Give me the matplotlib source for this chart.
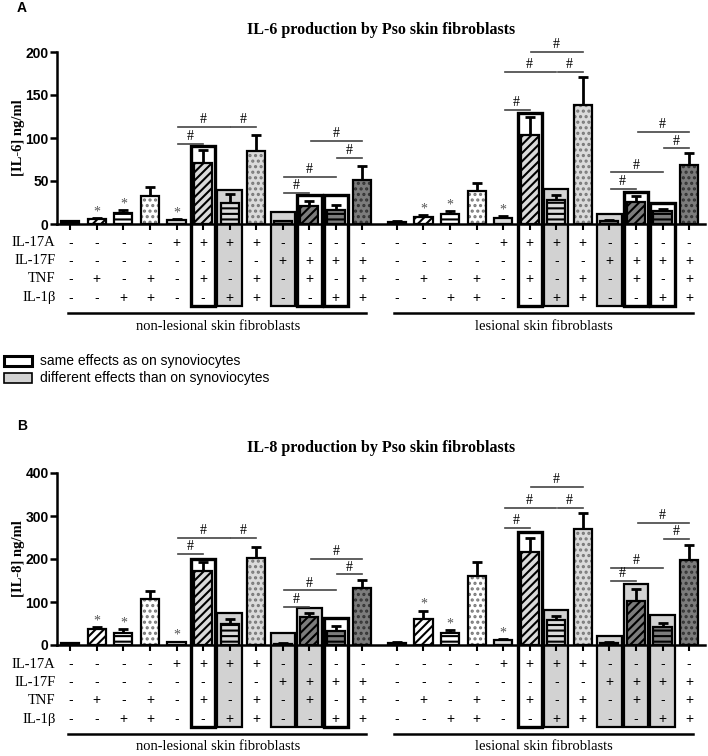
import matplotlib
matplotlib.use('Agg')
import matplotlib.pyplot as plt
from matplotlib.patches import Rectangle
from matplotlib.transforms import blended_transform_factory
import numpy as np

plt.rcParams['hatch.linewidth'] = 1.5
SERIF = 'Liberation Serif'
SANS = 'Liberation Sans'

# stimulation table (same for both groups)
row_names = ['IL-17A', 'IL-17F', 'TNF', 'IL-1β']
il17a = ['-', '-', '-', '-', '+', '+', '+', '+', '-', '-', '-', '-']
il17f = ['-', '-', '-', '-', '-', '-', '-', '-', '+', '+', '+', '+']
tnf = ['-', '+', '-', '+', '-', '+', '-', '+', '-', '+', '-', '+']
il1b = ['-', '-', '+', '+', '-', '-', '+', '+', '-', '-', '+', '+']
groups = ['non-lesional skin fibroblasts', 'lesional skin fibroblasts']

# IL-6 ng/ml
il6_nonles = [3, 6, 13, 32, 5, 71, 25, 85, 3, 21, 16, 51]
il6_nonles_err = [1, 1, 3, 11, 1, 15, 10, 19, 1, 6, 6, 16]
il6_les = [2, 8, 12, 38, 7, 104, 28, 138, 4, 26, 15, 69]
il6_les_err = [1, 2, 3, 10, 2, 20, 6, 33, 1, 7, 3, 14]
il6_nonles_box = [0, 0, 0, 0, 0, 91, 40, 0, 14, 34, 34, 0]
il6_nonles_kind = ['', '', '', '', '', 'same', 'diff', '', 'diff', 'same', 'same', '']
il6_les_box = [0, 0, 0, 0, 0, 129, 41, 0, 12, 37, 25, 0]
il6_les_kind = ['', '', '', '', '', 'same', 'diff', '', 'diff', 'same', 'same', '']
il6_nonles_sig = [(4, 5, 93), (4, 6, 113), (6, 7, 113), (8, 9, 36), (8, 10, 55), (9, 11, 97), (10, 11, 77)]
il6_les_sig = [(4, 5, 133), (4, 6, 177), (6, 7, 177), (5, 7, 200), (8, 9, 41), (8, 10, 60), (9, 11, 107), (10, 11, 88)]

# IL-8 ng/ml
il8_nonles = [4, 37, 28, 108, 7, 171, 48, 203, 3, 64, 32, 132]
il8_nonles_err = [1, 5, 9, 17, 1, 21, 12, 24, 1, 10, 12, 20]
il8_les = [5, 60, 28, 160, 11, 217, 58, 270, 5, 102, 42, 198]
il8_les_err = [1, 20, 6, 32, 2, 31, 9, 37, 1, 28, 9, 35]
il8_nonles_box = [0, 0, 0, 0, 0, 201, 74, 0, 28, 86, 62, 0]
il8_nonles_kind = ['', '', '', '', '', 'same', 'diff', '', 'diff', 'diff', 'same', '']
il8_les_box = [0, 0, 0, 0, 0, 262, 81, 0, 21, 142, 70, 0]
il8_les_kind = ['', '', '', '', '', 'same', 'diff', '', 'diff', 'diff', 'diff', '']
il8_nonles_sig = [(4, 5, 212), (4, 6, 249), (6, 7, 249), (8, 9, 88), (8, 10, 127), (9, 11, 201), (10, 11, 164)]
il8_les_sig = [(4, 5, 272), (4, 6, 319), (6, 7, 319), (5, 7, 367), (8, 9, 150), (8, 10, 180), (9, 11, 284), (10, 11, 247)]

star_idx = [1, 2, 4]

LG = '#dadada'
DG = '#7c7c7c'
BOXG = '#d2d2d2'
fills = ['black', 'white', 'white', 'white', LG, LG, LG, LG, DG, DG, DG, DG]
hatches = ['', '////', '---', '...', '', '////', '---', '...', '', '////', '---', '...']
hatch_cols = ['black', 'black', 'black', '#777777', 'black', 'black', 'black', '#777777',
              'black', 'black', 'black', '#333333']

W, H = 708, 756
fig = plt.figure(figsize=(W / 100, H / 100), dpi=100)

AX_H = 172  # px height of plot area
pos = [np.arange(12), np.arange(12) + 12.3]
ROW_PX = [19, 37, 55, 74]


def draw_panel(top_px, ymax, step, data, title, ylabel, letter, title_px):
    ax = fig.add_axes([57 / W, 1 - (top_px + AX_H) / H, 648 / W, AX_H / H])
    ax.patch.set_visible(False)
    ax.set_xlim(-0.5, 23.9)
    ax.set_ylim(0, ymax)
    trans = blended_transform_factory(ax.transData, ax.transAxes)
    box_bottom = -82 / AX_H * ymax

    for g, (vals, errs, box, kind, sig) in enumerate(data):
        x = pos[g]
        for i in range(12):
            if box[i] > 0:
                same = kind[i] == 'same'
                ax.add_patch(Rectangle((x[i] - 0.46, box_bottom), 0.92, box[i] - box_bottom,
                                       facecolor='white' if same else BOXG,
                                       edgecolor='black', lw=2.4 if same else 1.6,
                                       clip_on=False, zorder=0.8))
            # fill + hatch, then black outline on top
            ax.bar(x[i], vals[i], width=0.68, color=fills[i], edgecolor=hatch_cols[i],
                   hatch=hatches[i], lw=0, zorder=2)
            ax.bar(x[i], vals[i], width=0.68, fill=False, edgecolor='black', lw=1.6, zorder=2.1)
        ax.errorbar(x, vals, yerr=[np.zeros(12), errs], fmt='none', ecolor='black',
                    elinewidth=2, capsize=3.5, capthick=2, zorder=1.9)
        for i in star_idx:
            ax.annotate('*', xy=(x[i], vals[i] + errs[i]), xytext=(0, 4.5),
                        textcoords='offset points', ha='center', va='center',
                        fontsize=10, color='#555555', family=SERIF)
        for (i, j, y) in sig:
            ax.plot([x[i] + 0.06, x[j]], [y, y], color='#444444', lw=1.2, clip_on=False)
            ax.annotate('#', xy=((x[i] + x[j]) / 2, y), xytext=(0, 0.5),
                        textcoords='offset points', ha='center', va='bottom',
                        fontsize=10, family=SERIF, annotation_clip=False)
        # stimulation table
        for r, col in enumerate([il17a, il17f, tnf, il1b]):
            yy = -ROW_PX[r] / AX_H
            for i in range(12):
                ax.text(x[i], yy, col[i], transform=trans, ha='center', va='center',
                        fontsize=10, family=SANS, zorder=3)
        yl = -89 / AX_H
        ax.plot([x[0] - 0.1, x[-1] + 0.15], [yl, yl], transform=trans, color='black',
                lw=1.8, clip_on=False)
        ax.text((x[0] + x[-1]) / 2 + 0.05, -102 / AX_H, groups[g], transform=trans,
                ha='center', va='center', fontsize=10.5, family=SERIF)

    for r, name in enumerate(row_names):
        ax.text(-0.56, -ROW_PX[r] / AX_H, name, transform=trans, ha='right',
                va='center', fontsize=10.5, family=SERIF)

    ax.spines['top'].set_visible(False)
    ax.spines['right'].set_visible(False)
    ax.spines['left'].set_linewidth(1.8)
    ax.spines['bottom'].set_linewidth(1.8)
    ax.set_xticks(np.concatenate(pos))
    ax.set_xticklabels([])
    ax.tick_params(axis='x', length=4, width=1.5, direction='out')
    ax.set_yticks(np.arange(0, ymax + 1, step))
    ax.tick_params(axis='y', length=5, width=1.8, labelsize=10, pad=1)
    for lab in ax.get_yticklabels():
        lab.set_fontweight('bold')
        lab.set_family(SANS)

    fig.text(19 / W, 1 - (top_px + AX_H / 2) / H, ylabel, rotation=90, ha='center',
             va='center', fontsize=10.5, fontweight='bold', family=SERIF)
    fig.text(381 / W, 1 - title_px / H, title, ha='center', va='center',
             fontsize=11.5, fontweight='bold', family=SERIF)
    fig.text(22 / W, 1 - (title_px - 22) / H, letter, ha='center', va='center',
             fontsize=10, fontweight='bold', family=SANS)
    return ax


draw_panel(52, 200, 50,
           [(il6_nonles, il6_nonles_err, il6_nonles_box, il6_nonles_kind, il6_nonles_sig),
            (il6_les, il6_les_err, il6_les_box, il6_les_kind, il6_les_sig)],
           'IL-6 production by Pso skin fibroblasts', '[IL-6] ng/ml', 'A', 30)

draw_panel(473, 400, 100,
           [(il8_nonles, il8_nonles_err, il8_nonles_box, il8_nonles_kind, il8_nonles_sig),
            (il8_les, il8_les_err, il8_les_box, il8_les_kind, il8_les_sig)],
           'IL-8 production by Pso skin fibroblasts', '[IL-8] ng/ml', 'B', 448)

# legend
fig.patches.append(Rectangle((4 / W, 1 - 366 / H), 28 / W, 10 / H, transform=fig.transFigure,
                             facecolor='white', edgecolor='black', lw=2.2))
fig.patches.append(Rectangle((4 / W, 1 - 383 / H), 28 / W, 10 / H, transform=fig.transFigure,
                             facecolor=BOXG, edgecolor='black', lw=1.2))
fig.text(40 / W, 1 - 361 / H, 'same effects as on synoviocytes', ha='left', va='center',
         fontsize=10, family=SANS)
fig.text(40 / W, 1 - 378 / H, 'different effects than on synoviocytes', ha='left', va='center',
         fontsize=10, family=SANS)

fig.savefig('out.png', dpi=100)
